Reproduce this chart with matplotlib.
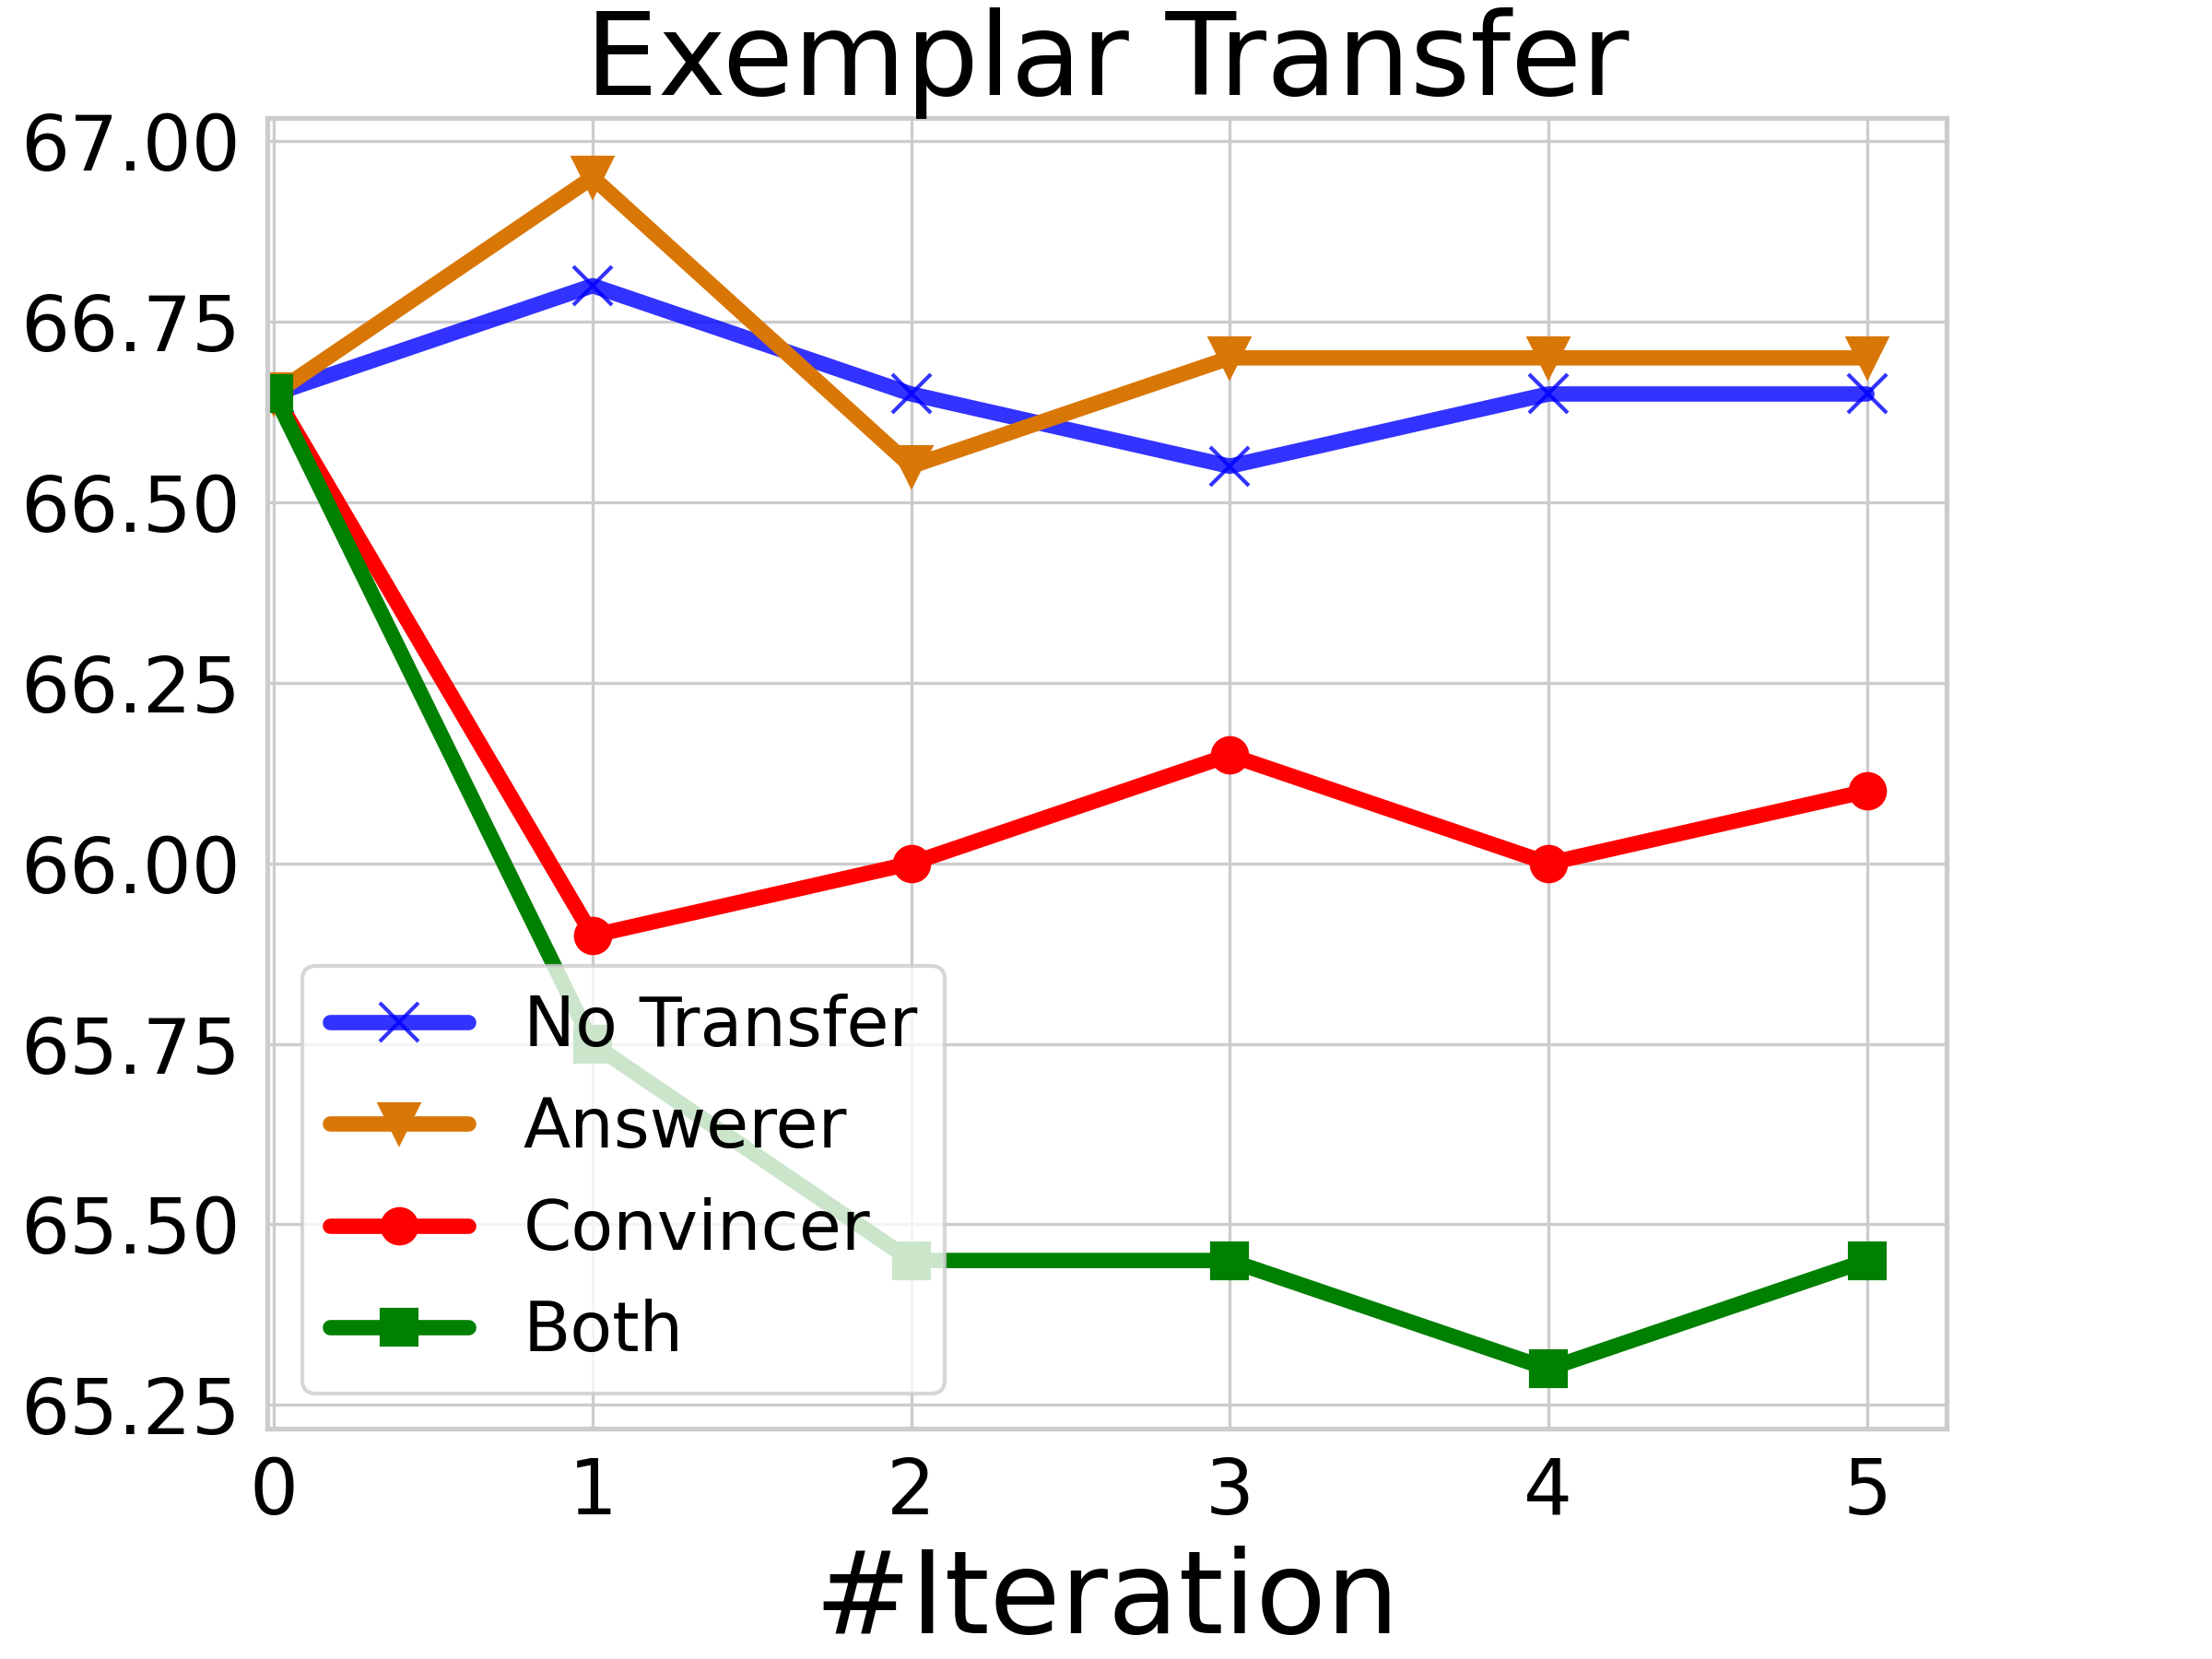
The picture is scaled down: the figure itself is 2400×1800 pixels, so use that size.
import matplotlib
matplotlib.use("Agg")
import matplotlib.pyplot as plt
import seaborn as sns

# data
iterations = [0, 1, 2, 3, 4, 5]
no_transfer = [66.65, 66.80, 66.65, 66.55, 66.65, 66.65]
answerer = [66.65, 66.95, 66.55, 66.70, 66.70, 66.70]
convincer = [66.65, 65.90, 66.00, 66.15, 66.00, 66.10]
both = [66.65, 65.75, 65.45, 65.45, 65.30, 65.45]

sns.set_style("whitegrid")
plt.rcParams['font.family'] = ['DejaVu Sans']
plt.rcParams['text.color'] = 'black'
plt.rcParams['axes.labelcolor'] = 'black'
plt.rcParams['xtick.color'] = 'black'
plt.rcParams['ytick.color'] = 'black'

fig, ax = plt.subplots(figsize=(8, 6), dpi=300)
fig.subplots_adjust(left=0.121, right=0.88, top=0.929, bottom=0.139)

lw = 4
ax.plot(iterations, no_transfer, color='b', alpha=0.8, marker='x', markersize=10,
        linewidth=lw, label='No Transfer')
ax.plot(iterations, answerer, color='#d97706', marker='v', markersize=10,
        linewidth=lw, label='Answerer')
ax.plot(iterations, convincer, color='r', marker='o', markersize=9,
        linewidth=lw, label='Convincer')
ax.plot(iterations, both, color='g', marker='s', markersize=9,
        linewidth=lw, label='Both')

ax.set_xlim(-0.02, 5.25)
ax.set_xticks(iterations)
ax.tick_params(axis='both', labelsize=20, colors='black')
ax.yaxis.set_major_formatter(matplotlib.ticker.FormatStrFormatter('%.2f'))

for s in ax.spines.values():
    s.set_color('#cccccc')
    s.set_linewidth(1.25)

ax.set_title('Exemplar Transfer', fontsize=30, color='black')
ax.set_xlabel('#Iteration', fontsize=30, color='black')
ax.legend(loc='lower left', fontsize=18)

fig.savefig('out.png', dpi=300)
